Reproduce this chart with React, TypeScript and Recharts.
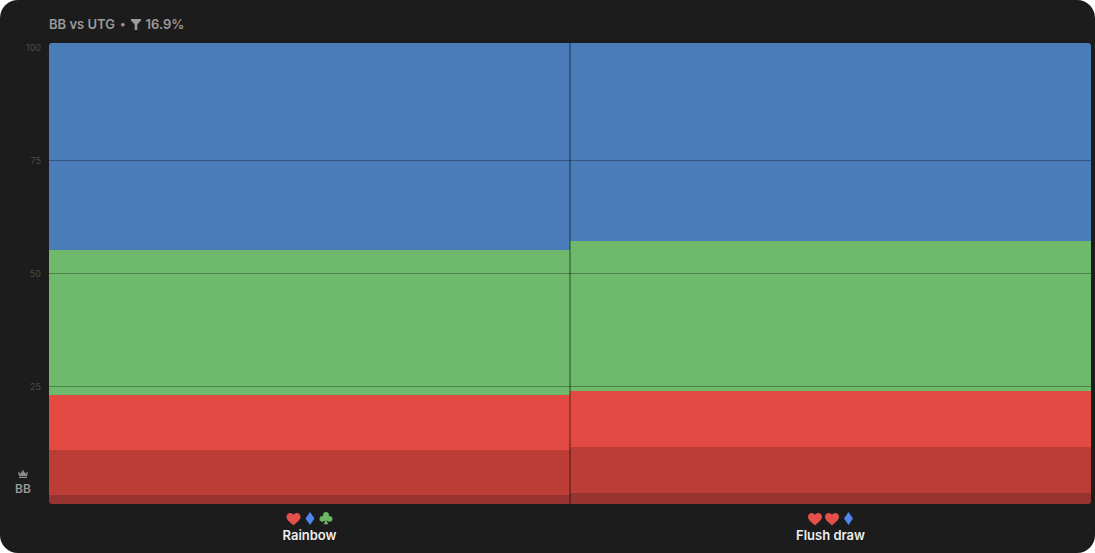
import { Bar, ComposedChart, Line, Rectangle, ReferenceLine, XAxis, YAxis } from "recharts";

const boards = ["Rainbow", "Flush draw"];
const boardSuits = [
  ["heart", "diamond", "club"],
  ["heart", "heart", "diamond"],
];
const darkest = [1.95, 2.39];
const darker = [9.76, 9.97];
const red = [11.93, 12.16];
const green = [31.45, 32.54];
const blue = [44.91, 42.94];
const gridValues = [25, 50, 75];
const yTicks = [25, 50, 75, 100];

const seriesKeys = ["darkest", "darker", "red", "green", "blue"];
const seriesColors = ["#973331", "#bc3d36", "#e24a43", "#6eb96b", "#4a7cb9"];

const tableData = boards.map((board, i) => ({
  board,
  darkest: darkest[i],
  darker: darker[i],
  red: red[i],
  green: green[i],
  blue: blue[i],
  scaleAnchor: 50,
}));

const suitColors: Record<string, string> = {
  heart: "#e5504b",
  diamond: "#4f86f0",
  club: "#6cb765",
};

const HEART = "M7 12.2 C2.6 8.8 0 6.6 0 3.8 C0 1.6 1.7 0 3.7 0 C5 0 6.2 .7 7 1.9 C7.8 .7 9 0 10.3 0 C12.3 0 14 1.6 14 3.8 C14 6.6 11.4 8.8 7 12.2 Z";
const DIAMOND = "M4.5 0 L9 6.5 L4.5 13 L0 6.5 Z";
const CLUB = "M6.5 0 C8.2 0 9.5 1.3 9.5 2.9 C9.5 3.4 9.4 3.8 9.2 4.2 C11.2 3.8 13 5 13 7 C13 8.7 11.7 9.8 10.2 9.8 C9 9.8 8 9.2 7.3 8.3 C7.4 9.8 8 11 9 12.3 L4 12.3 C5 11 5.6 9.8 5.7 8.3 C5 9.2 4 9.8 2.8 9.8 C1.3 9.8 0 8.7 0 7 C0 5 1.8 3.8 3.8 4.2 C3.6 3.8 3.5 3.4 3.5 2.9 C3.5 1.3 4.8 0 6.5 0 Z";

const suitWidth: Record<string, number> = { heart: 14, diamond: 9, club: 13 };
const suitPath: Record<string, string> = { heart: HEART, diamond: DIAMOND, club: CLUB };

function suitGap(a: string, b: string) {
  return a === "heart" && b === "heart" ? 3 : 5;
}

function BoardTick({ x, y, payload, index }: any) {
  const suits = boardSuits[index] ?? [];
  let total = 0;
  suits.forEach((s, i) => {
    total += suitWidth[s] + (i < suits.length - 1 ? suitGap(s, suits[i + 1]) : 0);
  });
  let cursor = -total / 2;
  return (
    <g transform={`translate(${x},${y})`}>
      {suits.map((suit, i) => {
        const left = cursor;
        cursor += suitWidth[suit] + (i < suits.length - 1 ? suitGap(suit, suits[i + 1]) : 0);
        return (
          <path
            key={i}
            d={suitPath[suit]}
            fill={suitColors[suit]}
            transform={`translate(${left},${suit === "heart" ? 1 : 0})`}
          />
        );
      })}
      <text x={0} y={28} textAnchor="middle" fill="#eeeeee" fontSize={13} fontWeight={600} fontFamily="Inter">
        {payload.value}
      </text>
    </g>
  );
}

function SegmentShape(props: any) {
  const { x, y, width, height, index, dataKey } = props;
  const r = 3;
  let radius: [number, number, number, number] = [0, 0, 0, 0];
  if (dataKey === "blue") radius = index === 0 ? [r, 0, 0, 0] : [0, r, 0, 0];
  if (dataKey === "darkest") radius = index === 0 ? [0, 0, 0, r] : [0, 0, r, 0];
  return <Rectangle x={x} y={y} width={width} height={height} fill={props.fill} radius={radius} />;
}

export default function App() {
  return (
    <div
      style={{
        position: "absolute",
        left: 0,
        top: 0,
        width: 1095,
        height: 553,
        background: "#1c1c1c",
        borderRadius: 18,
        overflow: "hidden",
        fontFamily: "Inter",
      }}
    >
      <div
        style={{
          position: "absolute",
          left: 49,
          top: 16,
          display: "flex",
          alignItems: "center",
          color: "#9a9a9a",
          fontSize: 13,
          fontWeight: 600,
          lineHeight: "16px",
        }}
      >
        <span>BB vs UTG</span>
        <span style={{ margin: "0 5px", fontSize: 11 }}>•</span>
        <svg width="10" height="11" viewBox="0 0 10 11" style={{ marginRight: 5 }}>
          <path d="M0 0 H10 V1.6 L6.3 5.4 V11 H3.7 V5.4 L0 1.6 Z" fill="#9a9a9a" />
        </svg>
        <span>16.9%</span>
      </div>

      <div style={{ position: "absolute", left: 0, top: 470, width: 46, textAlign: "center", color: "#9a9a9a" }}>
        <svg width="10" height="8" viewBox="0 0 10 8" style={{ display: "block", margin: "0 auto" }}>
          <path d="M0 1.5 L2.5 3.5 L5 0 L7.5 3.5 L10 1.5 L9 6 H1 Z M1 6.8 H9 V8 H1 Z" fill="#8a8a8a" />
        </svg>
        <div style={{ fontSize: 12, fontWeight: 600, lineHeight: "14px", marginTop: 4 }}>BB</div>
      </div>

      <ComposedChart
        width={1095}
        height={553}
        data={tableData}
        barCategoryGap={0}
        barGap={0}
        margin={{ top: 43, right: 4, bottom: 0, left: 19 }}
        style={{ position: "absolute", left: 0, top: 0 }}
      >
        <XAxis
          dataKey="board"
          axisLine={false}
          tickLine={false}
          height={49}
          interval={0}
          tick={BoardTick}
        />
        <YAxis yAxisId="share" type="number" domain={[0, 100]} hide />
        <YAxis
          yAxisId="scale"
          type="number"
          domain={[-1, 101]}
          ticks={yTicks}
          width={30}
          axisLine={false}
          tickLine={false}
          tickMargin={2}
          tick={{ fill: "#4b4b4b", fontSize: 9, fontFamily: "Inter" }}
        />
        {seriesKeys.map((key, i) => (
          <Bar
            key={key}
            yAxisId="share"
            dataKey={key}
            stackId="mix"
            fill={seriesColors[i]}
            isAnimationActive={false}
            shape={(p: any) => <SegmentShape {...p} dataKey={key} />}
          />
        ))}
        {/* keeps the scale axis alive, it has no visible series of its own */}
        <Line yAxisId="scale" dataKey="scaleAnchor" stroke="none" dot={false} isAnimationActive={false} />
        {gridValues.map((v) => (
          <ReferenceLine
            key={v}
            yAxisId="scale"
            y={v}
            stroke="#000000"
            strokeOpacity={0.3}
            strokeWidth={1}
            zIndex={1000}
          />
        ))}
        <ReferenceLine
          yAxisId="share"
          x="Rainbow"
          position="end"
          stroke="#000000"
          strokeOpacity={0.3}
          strokeWidth={2}
          zIndex={1000}
        />
      </ComposedChart>
    </div>
  );
}
